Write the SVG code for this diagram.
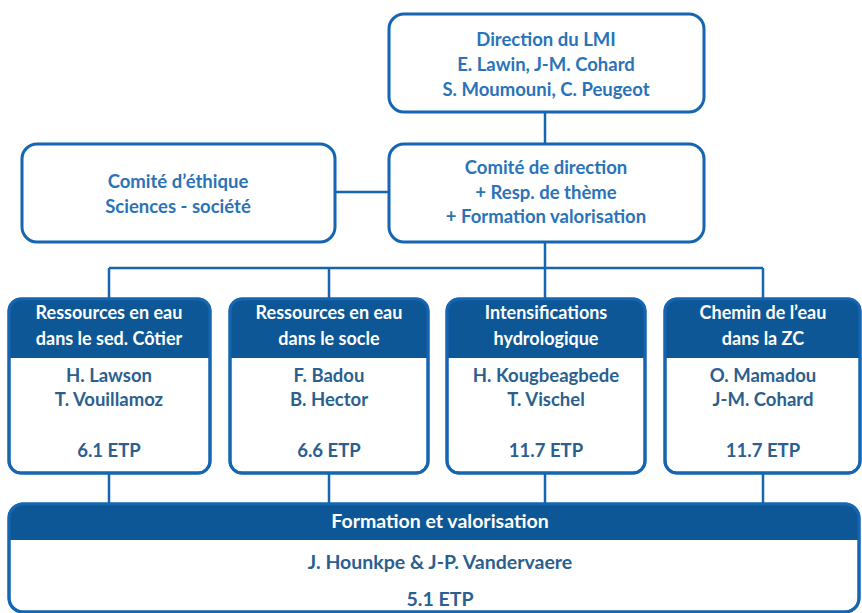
<svg xmlns="http://www.w3.org/2000/svg" width="862" height="613" viewBox="0 0 862 613">
<style>
.box{fill:#ffffff;stroke:#1565b0;stroke-width:3}
.hdr{fill:#0d5796}
.line{stroke:#1565b0;stroke-width:2.5;fill:none}
text{font-family:Lato,"Open Sans","Liberation Sans",sans-serif;font-weight:bold;font-size:18.5px;text-anchor:middle}
.t1{fill:#2a73b8}
.t2{fill:#2b5f8f}
.tw{fill:#ffffff;font-size:18px}
.big{font-size:19.5px}
</style>
<rect width="862" height="613" fill="#ffffff"/>
<g id="connectors">
<line class="line" x1="545" y1="112" x2="545" y2="143"/>
<line class="line" x1="335" y1="192" x2="388" y2="192"/>
<line class="line" x1="545" y1="242" x2="545" y2="268"/>
<line class="line" x1="109" y1="268" x2="763" y2="268"/>
<line class="line" x1="109" y1="268" x2="109" y2="298"/>
<line class="line" x1="329" y1="268" x2="329" y2="298"/>
<line class="line" x1="545" y1="268" x2="545" y2="298"/>
<line class="line" x1="763" y1="268" x2="763" y2="298"/>
<line class="line" x1="109" y1="473" x2="109" y2="503"/>
<line class="line" x1="329" y1="473" x2="329" y2="503"/>
<line class="line" x1="545" y1="473" x2="545" y2="503"/>
<line class="line" x1="763" y1="473" x2="763" y2="503"/>
</g>
<g id="direction">
<rect class="box" x="389" y="14" width="315" height="98" rx="15"/>
<text class="t1" x="546" y="46">Direction du LMI</text>
<text class="t1" x="546" y="71">E. Lawin, J-M. Cohard</text>
<text class="t1" x="546" y="96">S. Moumouni,  C. Peugeot</text>
</g>
<g id="comite-direction">
<rect class="box" x="389" y="144" width="315" height="98" rx="15"/>
<text class="t1" x="546" y="174">Comité de direction</text>
<text class="t1" x="546" y="199">+ Resp. de thème</text>
<text class="t1" x="546" y="223">+ Formation valorisation</text>
</g>
<g id="comite-ethique">
<rect class="box" x="22" y="144" width="313" height="98" rx="15"/>
<text class="t1" x="178" y="188">Comité d’éthique</text>
<text class="t1" x="178" y="213">Sciences - société</text>
</g>
<g id="theme1">
<rect class="box" x="9" y="299" width="201" height="174" rx="12"/>
<path class="hdr" d="M9,358 L9,311 Q9,299 21,299 L198,299 Q210,299 210,311 L210,358 Z"/>
<rect x="9" y="299" width="201" height="174" rx="12" fill="none" stroke="#1565b0" stroke-width="3"/>
<text class="tw" x="109" y="319">Ressources en eau</text>
<text class="tw" x="109" y="345">dans le sed. Côtier</text>
<text class="t2" x="109" y="382">H. Lawson</text>
<text class="t2" x="109" y="406">T. Vouillamoz</text>
<text class="t2" x="109" y="457">6.1 ETP</text>
</g>
<g id="theme2">
<rect class="box" x="230" y="299" width="198" height="174" rx="12"/>
<path class="hdr" d="M230,358 L230,311 Q230,299 242,299 L416,299 Q428,299 428,311 L428,358 Z"/>
<rect x="230" y="299" width="198" height="174" rx="12" fill="none" stroke="#1565b0" stroke-width="3"/>
<text class="tw" x="329" y="319">Ressources en eau</text>
<text class="tw" x="329" y="345">dans le socle</text>
<text class="t2" x="329" y="382">F. Badou</text>
<text class="t2" x="329" y="406">B. Hector</text>
<text class="t2" x="329" y="457">6.6 ETP</text>
</g>
<g id="theme3">
<rect class="box" x="447" y="299" width="198" height="174" rx="12"/>
<path class="hdr" d="M447,358 L447,311 Q447,299 459,299 L633,299 Q645,299 645,311 L645,358 Z"/>
<rect x="447" y="299" width="198" height="174" rx="12" fill="none" stroke="#1565b0" stroke-width="3"/>
<text class="tw" x="546" y="319">Intensifications</text>
<text class="tw" x="546" y="345">hydrologique</text>
<text class="t2" x="546" y="382">H. Kougbeagbede</text>
<text class="t2" x="546" y="406">T. Vischel</text>
<text class="t2" x="546" y="457">11.7 ETP</text>
</g>
<g id="theme4">
<rect class="box" x="665" y="299" width="195" height="174" rx="12"/>
<path class="hdr" d="M665,358 L665,311 Q665,299 677,299 L848,299 Q860,299 860,311 L860,358 Z"/>
<rect x="665" y="299" width="195" height="174" rx="12" fill="none" stroke="#1565b0" stroke-width="3"/>
<text class="tw" x="763" y="319">Chemin de l’eau</text>
<text class="tw" x="763" y="345">dans la ZC</text>
<text class="t2" x="763" y="382">O. Mamadou</text>
<text class="t2" x="763" y="406">J-M. Cohard</text>
<text class="t2" x="763" y="457">11.7 ETP</text>
</g>
<g id="formation">
<rect class="box" x="9" y="504" width="850" height="108" rx="14"/>
<path class="hdr" d="M9,540 L9,518 Q9,504 23,504 L845,504 Q859,504 859,518 L859,540 Z"/>
<rect x="9" y="504" width="850" height="108" rx="14" fill="none" stroke="#1565b0" stroke-width="3"/>
<text class="tw big" x="440" y="528">Formation et valorisation</text>
<text class="t2 big" x="440" y="569">J. Hounkpe &amp; J-P. Vandervaere</text>
<text class="t2 big" x="440" y="606">5.1 ETP</text>
</g>
</svg>
